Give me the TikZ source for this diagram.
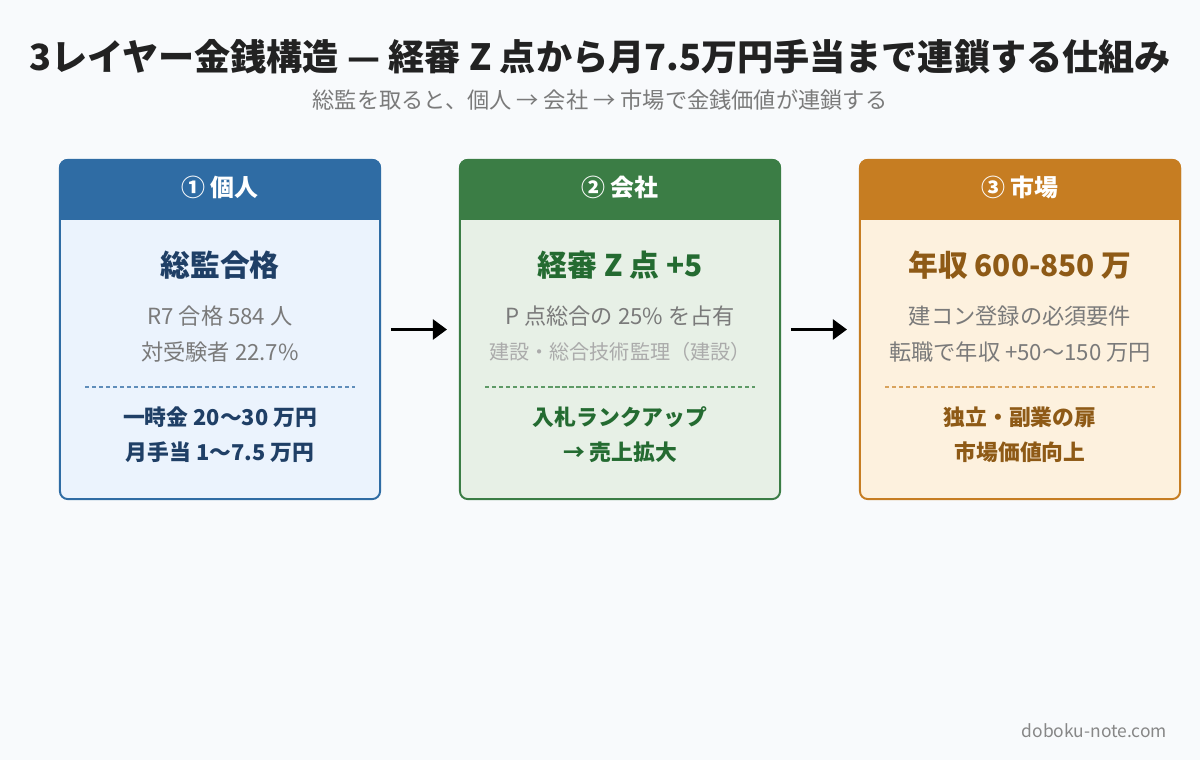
\documentclass[tikz,border=0pt]{standalone}
\usepackage{fontspec}
\setmainfont{Noto Sans CJK JP}
\usetikzlibrary{arrows.meta}

\definecolor{pagebg}{HTML}{F8FAFC}
\definecolor{titlec}{HTML}{222222}
\definecolor{subc}{HTML}{7A7A7A}
\definecolor{softc}{HTML}{ABABAB}
\definecolor{blueH}{HTML}{2F6CA4}
\definecolor{blueF}{HTML}{EBF3FD}
\definecolor{blueT}{HTML}{1F3F66}
\definecolor{blueD}{HTML}{5F8DBA}
\definecolor{greenH}{HTML}{3B7D45}
\definecolor{greenF}{HTML}{E7F0E6}
\definecolor{greenT}{HTML}{246B31}
\definecolor{greenD}{HTML}{5E9A66}
\definecolor{orangeH}{HTML}{C67D22}
\definecolor{orangeF}{HTML}{FDF1DE}
\definecolor{orangeT}{HTML}{8E5A16}
\definecolor{orangeD}{HTML}{D9A35C}

\tikzset{
  layerbox/.style 2 args={draw=#1, fill=#2, line width=1.4pt, rounded corners=5.5pt,
    minimum width=8cm, minimum height=8.475cm, inner sep=0pt},
  headbar/.style={fill=#1, draw=#1, line width=1.4pt},
  headtxt/.style={text=white, font=\bfseries\fontsize{17}{20}\selectfont},
  bigtxt/.style={text=#1, font=\bfseries\fontsize{21.2}{25}\selectfont},
  bodytxt/.style={text=subc, font=\fontsize{15.8}{19}\selectfont},
  smalltxt/.style={text=softc, font=\fontsize{14.3}{17}\selectfont},
  boldtxt/.style={text=#1, font=\bfseries\fontsize{15.5}{19}\selectfont},
  sepline/.style={draw=#1, line width=0.8pt, dash pattern=on 3pt off 2pt},
  flow/.style={line width=2.4pt, -{Triangle[length=10pt,width=14pt]},
    shorten <=7pt, shorten >=8.5pt}
}

\begin{document}
\begin{tikzpicture}[x=0.025cm, y=-0.025cm]
  \fill[pagebg] (0,0) rectangle (1200,760);
  \useasboundingbox (0,0) rectangle (1200,760);

  \node[text=titlec, font=\bfseries\fontsize{25.7}{30}\selectfont] (title) at (600,57)
    {3レイヤー金銭構造 — 経審 Z 点から月7.5万円手当まで連鎖する仕組み};
  \node[text=subc, font=\fontsize{15.8}{19}\selectfont] (subtitle) at (600,100)
    {総監を取ると、個人 → 会社 → 市場で金銭価値が連鎖する};

  % layer 1
  \node[layerbox={blueH}{blueF}] (kojin) at (220,329.5) {};
  \path[headbar=blueH] (60,219) {[rounded corners=5.5pt] -- (60,160) -- (380,160)} -- (380,219) -- cycle;
  \node[headtxt] (kojinhead) at (220,187) {① 個人};
  \node[bigtxt=blueT] (kojinbig) at (220,265) {総監合格};
  \node[bodytxt] (kojinA) at (220,316) {R7 合格 584 人};
  \node[bodytxt] (kojinB) at (220,352) {対受験者 22.7\%};
  \draw[sepline=blueD] (85,387) -- (355,387);
  \node[boldtxt=blueT] (kojinC) at (220,417) {一時金 20〜30 万円};
  \node[boldtxt=blueT] (kojinD) at (220,452) {月手当 1〜7.5 万円};

  % layer 2
  \node[layerbox={greenH}{greenF}] (kaisha) at (620,329.5) {};
  \path[headbar=greenH] (460,219) {[rounded corners=5.5pt] -- (460,160) -- (780,160)} -- (780,219) -- cycle;
  \node[headtxt] (kaishahead) at (620,187) {② 会社};
  \node[bigtxt=greenT] (kaishabig) at (620,265) {経審 Z 点 +5};
  \node[bodytxt] (kaishaA) at (620,316) {P 点総合の 25\% を占有};
  \node[smalltxt] (kaishaB) at (620,352) {建設・総合技術監理（建設）};
  \draw[sepline=greenD] (485,387) -- (755,387);
  \node[boldtxt=greenT] (kaishaC) at (620,417) {入札ランクアップ};
  \node[boldtxt=greenT] (kaishaD) at (620,452) {→ 売上拡大};

  % layer 3
  \node[layerbox={orangeH}{orangeF}] (shijo) at (1020,329.5) {};
  \path[headbar=orangeH] (860,219) {[rounded corners=5.5pt] -- (860,160) -- (1180,160)} -- (1180,219) -- cycle;
  \node[headtxt] (shijohead) at (1020,187) {③ 市場};
  \node[bigtxt=orangeT] (shijobig) at (1020,265) {年収 600-850 万};
  \node[bodytxt] (shijoA) at (1020,316) {建コン登録の必須要件};
  \node[bodytxt] (shijoB) at (1020,352) {転職で年収 +50〜150 万円};
  \draw[sepline=orangeD] (885,387) -- (1155,387);
  \node[boldtxt=orangeT] (shijoC) at (1020,417) {独立・副業の扉};
  \node[boldtxt=orangeT] (shijoD) at (1020,452) {市場価値向上};

  \draw[flow] (kojin) -- (kaisha);
  \draw[flow] (kaisha) -- (shijo);

  \node[anchor=east, text=subc!90, font=\fontsize{12.4}{15}\selectfont] (site) at (1172,731) {doboku-note.com};
\end{tikzpicture}
\end{document}
